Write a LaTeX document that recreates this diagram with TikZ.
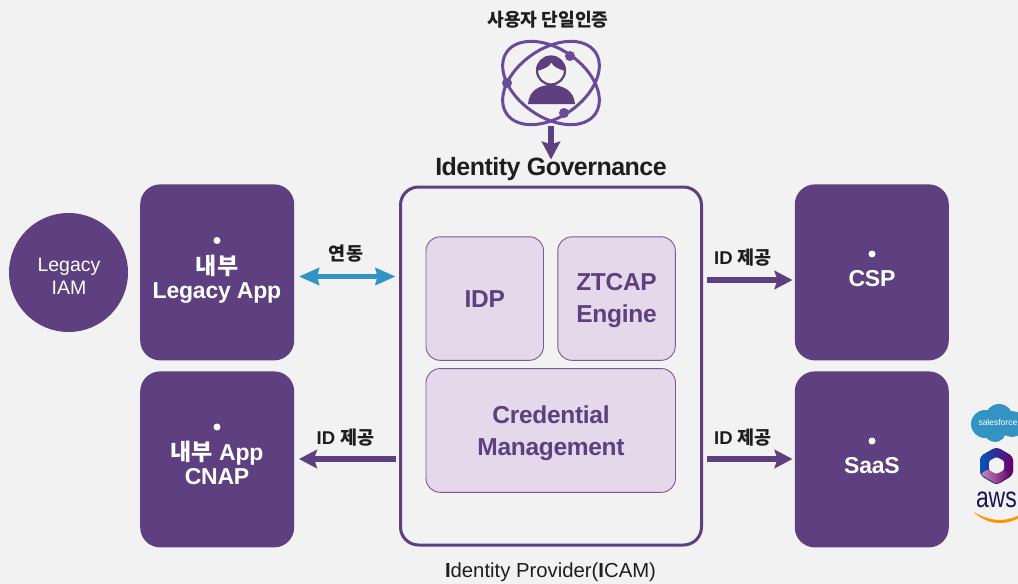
\documentclass[tikz,border=0pt]{standalone}
\usepackage{fontspec}
\setmainfont{Liberation Sans}
\newfontfamily\kr{Noto Sans CJK KR}
\definecolor{bgc}{HTML}{F2F2F2}
\definecolor{pur}{HTML}{5E3F7F}
\definecolor{lil}{HTML}{E4D8EA}
\definecolor{atom}{HTML}{6A4A9A}
\definecolor{ink}{HTML}{1E1E1E}
\definecolor{blu}{HTML}{3394C4}
\usetikzlibrary{arrows.meta}
\tikzset{
  x=1pt,y=-1pt,
  every node/.style={outer sep=0pt},
  darkbox/.style={fill=pur,rounded corners=20pt,inner sep=0pt,anchor=north west,minimum width=154pt,minimum height=176pt},
  lilbox/.style={fill=lil,draw=pur!85,line width=.9pt,rounded corners=14pt,inner sep=0pt,anchor=north west},
  liltext/.style={text=pur,align=center,inner sep=0pt,font=\bfseries\addfontfeature{LetterSpace=-1.2}\fontsize{24.5}{32}\selectfont},
  arr/.style={draw=pur,line width=5.2pt,-{Stealth[length=18pt,width=18.5pt,inset=3pt]}},
  lbl/.style={text=ink,inner sep=0pt,font=\bfseries\fontsize{18.5}{20}\selectfont},
  wdot/.style={circle,fill=white,inner sep=0pt,minimum size=7pt},
  wtext/.style={text=white,align=center,inner sep=0pt,font=\bfseries\addfontfeature{LetterSpace=-1}\fontsize{23}{24.5}\selectfont},
}
\begin{document}
\begin{tikzpicture}
\path[clip] (0,0) rectangle (1018,584);
\fill[bgc] (0,0) rectangle (1018,584);
\node[circle,fill=pur,minimum size=119pt,inner sep=0pt] (legacyiam) at (68.5,272.5) {};
\node[text=white,align=center,inner sep=0pt,font=\fontsize{19.5}{23}\selectfont] (legacyt) at (69,276.5) {Legacy\\IAM};
\node[darkbox] (app) at (140.2,184.4) {};
\node[darkbox] (cnap) at (140.2,371.4) {};
\node[darkbox] (csp) at (794.8,184.4) {};
\node[darkbox] (saas) at (794.8,371.4) {};
\node[wdot] (d1) at (217,240.5) {};
\node[wdot] (d2) at (217,427) {};
\node[wdot] (d3) at (872,254) {};
\node[wdot] (d4) at (872,441) {};
\node[wtext] (t1) at (217,279) {{\kr 내부}\\Legacy App};
\node[wtext] (t2) at (217,463) {{\kr 내부} App\\CNAP};
\node[wtext] (t3) at (872,279) {CSP};
\node[wtext] (t4) at (872,465.5) {SaaS};
\node[draw=pur,line width=3pt,fill=bgc,rounded corners=18pt,minimum width=301pt,minimum height=358pt,inner sep=0pt,anchor=north west] (icam) at (400.5,187) {};
\node[lilbox,minimum width=117.5pt,minimum height=123.5pt] (idp) at (426,236.8) {};
\node[lilbox,minimum width=117.5pt,minimum height=123.5pt] (zt) at (557.8,236.8) {};
\node[lilbox,minimum width=249.5pt,minimum height=123.7pt] (cred) at (426,368.6) {};
\node[liltext] (idpt) at (484.8,299) {IDP};
\node[liltext] (ztt) at (616.5,301) {ZTCAP\\Engine};
\node[liltext] (credt) at (551,433.5) {Credential\\Management};
\node[inner sep=0pt,text=ink,font=\bfseries\addfontfeature{LetterSpace=-2.1}\fontsize{25}{28}\selectfont] (gov) at (551,169.5) {Identity Governance};
\node[inner sep=0pt,text=ink,font=\fontsize{20.3}{22}\selectfont] (prov) at (550.5,572.5) {\textbf{I}dentity Provider(\textbf{I}CAM)};
\node[lbl,font=\kr\bfseries\fontsize{18.2}{22}\selectfont] (sso) at (548,20) {사용자 단일인증};
% atom icon
\draw[atom,line width=3pt,rotate around={35:(551,83)}] (551,83) ellipse [x radius=54,y radius=34];
\draw[atom,line width=3pt,rotate around={-35:(551,83)}] (551,83) ellipse [x radius=54,y radius=34];
\fill[atom] (570,56) circle (5) (507,83) circle (5) (564,113) circle (5);
\fill[pur] (528,104) .. controls (529,90) and (540,85) .. (551,85) .. controls (562,85) and (574,90) .. (575,104) -- cycle;
\draw[pur,line width=2.2pt] (551,70.5) circle (14);
\fill[pur] (537,71) arc (180:360:14) .. controls (559,69) and (553,67) .. (551.5,62.5) .. controls (549,67) and (544,69) .. (537,71) -- cycle;
\coordinate (iconb) at (551,126);
\coordinate (govt) at (551,159.5);
\draw[arr] (iconb) -- (govt);
% arrows
\coordinate (a1) at (299,276.5); \coordinate (a2) at (395.5,276.5);
\draw[blu,line width=5pt,{Stealth[length=20pt,width=17pt,inset=2pt]}-{Stealth[length=20pt,width=17pt,inset=2pt]}] (a1) -- (a2);
\coordinate (b1) at (395.5,459); \coordinate (b2) at (299,459);
\draw[arr] (b1) -- (b2);
\coordinate (c1) at (707,280); \coordinate (c2) at (792.5,280);
\draw[arr] (c1) -- (c2);
\coordinate (e1) at (707,459); \coordinate (e2) at (792.5,459);
\draw[arr] (e1) -- (e2);
\node[lbl,font=\kr\bfseries\fontsize{18.5}{20}\selectfont] (l1) at (346,254) {연동};
\node[lbl] (l2) at (345.5,438) {ID {\kr 제공}};
\node[lbl] (l3) at (743,258) {ID {\kr 제공}};
\node[lbl] (l4) at (743,438) {ID {\kr 제공}};
% logos
\fill[blu] (985,424) circle (14) (999,418) circle (14) (1012,424) circle (13) (995,431) circle (11);
\node[text=white,inner sep=0pt,font=\fontsize{8.5}{10}\selectfont,anchor=west] (sf) at (978.5,422) {salesforce};
\fill[rounded corners=4pt,left color=blue!55!cyan!75!black,right color=violet!85!black] (996.5,447) -- (1013,456.5) -- (1013,475) -- (996.5,485) -- (980,475) -- (980,456.5) -- cycle;
\fill[rounded corners=2pt,left color=violet!45!white,right color=violet!75!black] (980.5,474) -- (988,469) -- (1005,470) -- (1012,474) -- (996.5,484.5) -- cycle;
\fill[bgc,rounded corners=1.5pt] (996.5,457) -- (1004,461) -- (1004,470) -- (996.5,474) -- (989,470) -- (989,461) -- cycle;
\node[text=ink!75!blue,inner sep=0pt,anchor=base west,transform shape,xscale=.79,font=\fontsize{29}{30}\selectfont] (aws) at (976,507) {aws};
\fill[orange!85!yellow] (973,511.5) .. controls (988,521) and (1005,523) .. (1019,515) -- (1019,518) .. controls (1003,526.5) and (986,524) .. (973,511.5) -- cycle;
\end{tikzpicture}
\end{document}
